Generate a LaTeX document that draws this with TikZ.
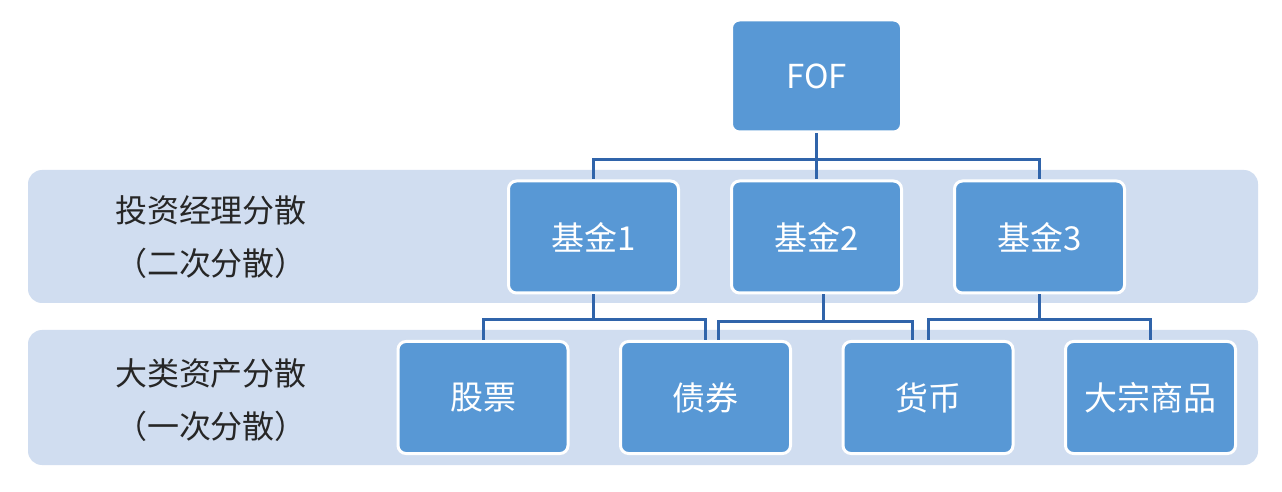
\documentclass[tikz,border=0pt]{standalone}
\usepackage{fontspec}
\newfontfamily\cjk{Noto Sans CJK SC}
\usepackage{tikz}
\usetikzlibrary{positioning}
\definecolor{bandblue}{RGB}{208,221,240}
\definecolor{boxblue}{RGB}{88,152,213}
\definecolor{linkblue}{RGB}{48,100,170}
\tikzset{
  fund/.style={rectangle, rounded corners=4pt, fill=boxblue, draw=white, line width=1.5pt,
    minimum width=85pt, minimum height=56pt, text=white, font=\cjk\fontsize{16.5}{20}\selectfont},
  band/.style={fill=bandblue, rounded corners=7pt},
  tag/.style={align=center, text=black!85, font=\cjk\fontsize{16}{26.5}\selectfont},
  link/.style={draw=linkblue, line width=1.5pt}
}

\begin{document}
\begin{tikzpicture}[x=0.5pt, y=-0.5pt]
			\fill[white] (0,0) rectangle (1282,492);
			\useasboundingbox (0,0) rectangle (1282,492);
			% Bands
			\fill[band] (28,170) rectangle (1258,303);
			\fill[band] (28,330) rectangle (1258,465);
			\node (t1) [tag] at (211,237) {投资经理分散\\（二次分散）};
			\node (t2) [tag] at (211,400) {大类资产分散\\（一次分散）};

			% Nodes
			\node (fof) [fund] at (816.5,76) {FOF};
			\node (f2) [fund, below=23pt of fof] {基金2};
			\node (f1) [fund, left=25pt of f2] {基金1};
			\node (f3) [fund, right=25pt of f2] {基金3};
			\node (a1) [fund, below=22.75pt of f1, xshift=-55.25pt] {股票};
			\node (a2) [fund, right=24.75pt of a1] {债券};
			\node (a3) [fund, right=24.75pt of a2] {货币};
			\node (a4) [fund, right=24.75pt of a3] {大宗商品};

			% Edges
			\draw[link] (fof.south) -- ++(0,-13pt) -| (f1.north);
			\draw[link] (fof.south) -- (f2.north);
			\draw[link] (fof.south) -- ++(0,-13pt) -| (f3.north);
			\draw[link] (f1.south) -- ++(0,-12.5pt) -| (a1.north);
			\draw[link] (f1.south) -- ++(0,-12.5pt) -| (a2.north);
			\draw[link] ([xshift=3.5pt]f2.south) -- ++(0,-13.5pt) -| ([xshift=6.5pt]a2.north);
			\draw[link] ([xshift=3.5pt]f2.south) -- ++(0,-13.5pt) -| ([xshift=-8pt]a3.north);
			\draw[link] (f3.south) -- ++(0,-12.5pt) -| (a3.north);
			\draw[link] (f3.south) -- ++(0,-12.5pt) -| (a4.north);

		\end{tikzpicture}
\end{document}
